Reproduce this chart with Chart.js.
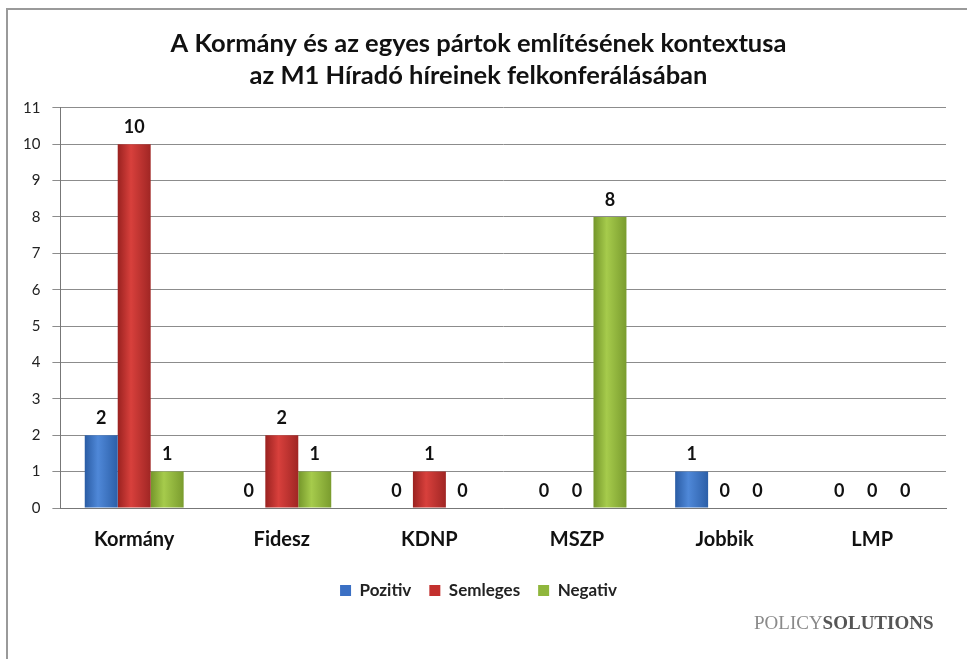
<!DOCTYPE html>
<html>
<head>
<meta charset="utf-8">
<script src="https://cdn.jsdelivr.net/npm/chart.js@4"></script>
<style>
  html, body { margin: 0; padding: 0; background: #fff; }
  #wrap { position: relative; width: 967px; height: 659px; }
</style>
</head>
<body>
<div id="wrap"><canvas id="chart" width="967" height="659"></canvas></div>
<script>
// chart data
const categories = ['Kormány', 'Fidesz', 'KDNP', 'MSZP', 'Jobbik', 'LMP'];
const pozitiv = [2, 0, 0, 0, 1, 0];
const semleges = [10, 2, 1, 0, 0, 0];
const negativ = [1, 1, 0, 8, 0, 0];
const yTicks = [0, 1, 2, 3, 4, 5, 6, 7, 8, 9, 10, 11];

const FONT = 'Lato, "Open Sans", sans-serif';

// shading for the cylinder look: edge, middle, edge
const shades = [
    ['#2a5ca4', '#4f88d8', '#2c5fa8'],
    ['#9a2220', '#d8403c', '#a02624'],
    ['#74962a', '#a6cb4c', '#7a9c2e']
];

// frame around the picture and the logo text
const framePlugin = {
    id: 'frame',
    beforeDraw(chart) {
        const ctx = chart.ctx;
        ctx.save();
        ctx.fillStyle = '#fff';
        ctx.fillRect(0, 0, chart.width, chart.height);
        ctx.strokeStyle = '#9a9a9a';
        ctx.lineWidth = 2;
        ctx.beginPath();
        ctx.moveTo(7, chart.height);
        ctx.lineTo(7, 9);
        ctx.lineTo(chart.width, 9);
        ctx.stroke();
        ctx.restore();
    },
    afterDraw(chart) {
        const ctx = chart.ctx;
        ctx.save();
        ctx.textBaseline = 'middle';
        ctx.textAlign = 'left';
        ctx.font = '19px "Liberation Serif", serif';
        ctx.fillStyle = '#8a8a8a';
        ctx.fillText('POLICY', 754, 624);
        const w = ctx.measureText('POLICY').width;
        ctx.font = 'bold 19px "Liberation Serif", serif';
        ctx.fillStyle = '#555';
        ctx.fillText('SOLUTIONS', 754 + w, 624);
        ctx.restore();
    }
};

// gradient fill per bar, based on where the bar ended up
const barShade = {
    id: 'barShade',
    beforeDatasetsDraw(chart) {
        const ctx = chart.ctx;
        chart.data.datasets.forEach((ds, i) => {
            chart.getDatasetMeta(i).data.forEach(bar => {
                const half = bar.width / 2;
                const g = ctx.createLinearGradient(bar.x - half, 0, bar.x + half, 0);
                g.addColorStop(0, shades[i][0]);
                g.addColorStop(0.4, shades[i][1]);
                g.addColorStop(1, shades[i][2]);
                bar.options = Object.assign({}, bar.options, { backgroundColor: g });
            });
        });
    }
};

// value labels above each bar, zeros included
const valueLabels = {
    id: 'valueLabels',
    afterDatasetsDraw(chart) {
        const ctx = chart.ctx;
        ctx.save();
        ctx.font = 'bold 18px ' + FONT;
        ctx.fillStyle = '#111';
        ctx.textAlign = 'center';
        ctx.textBaseline = 'bottom';
        chart.data.datasets.forEach((ds, i) => {
            chart.getDatasetMeta(i).data.forEach((bar, j) => {
                ctx.fillText(String(ds.data[j]), bar.x, bar.y - 8);
            });
        });
        ctx.restore();
    }
};

new Chart(document.getElementById('chart'), {
    type: 'bar',
    data: {
        labels: categories,
        datasets: [
            { label: 'Pozitiv', data: pozitiv, backgroundColor: '#3b70c4' },
            { label: 'Semleges', data: semleges, backgroundColor: '#c3302e' },
            { label: 'Negativ', data: negativ, backgroundColor: '#8fb63c' }
        ]
    },
    options: {
        responsive: false,
        animation: false,
        datasets: { bar: { categoryPercentage: 0.67, barPercentage: 1.0 } },
        layout: { padding: { left: 11, right: 21, top: 28, bottom: 50 } },
        plugins: {
            title: {
                display: true,
                text: ['A Kormány és az egyes pártok említésének kontextusa', 'az M1 Híradó híreinek felkonferálásában'],
                color: '#111',
                font: { family: FONT, size: 25.5, weight: 'bold', lineHeight: 1.25 },
                padding: { top: 0, bottom: 16 }
            },
            legend: {
                position: 'bottom',
                labels: {
                    boxWidth: 11,
                    boxHeight: 11,
                    padding: 18,
                    color: '#222',
                    font: { family: FONT, size: 17, weight: 'bold' }
                }
            },
            tooltip: { enabled: false }
        },
        scales: {
            x: {
                grid: { display: false, drawTicks: true },
                border: { color: '#777' },
                ticks: { color: '#111', padding: 12, font: { family: FONT, size: 20, weight: 'bold' } }
            },
            y: {
                min: 0,
                max: 11,
                afterBuildTicks: (axis) => { axis.ticks = yTicks.map(v => ({ value: v })); },
                grid: { color: '#8c8c8c', tickLength: 8 },
                border: { color: '#777' },
                ticks: { color: '#222', padding: 12, font: { family: FONT, size: 15 } }
            }
        }
    },
    plugins: [framePlugin, barShade, valueLabels]
});
</script>
</body>
</html>
